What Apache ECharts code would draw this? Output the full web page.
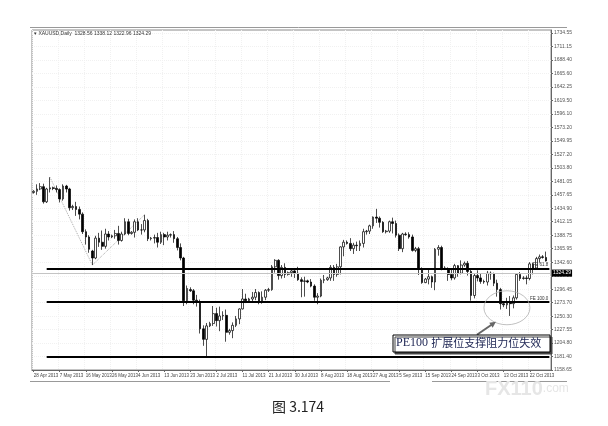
<!DOCTYPE html>
<html>
<head>
<meta charset="utf-8">
<script src="https://cdn.jsdelivr.net/npm/echarts@6/dist/echarts.min.js"></script>
<style>
html, body { margin: 0; padding: 0; background: #fff; }
#main { width: 608px; height: 426px; }
</style>
</head>
<body>
<div id="main"></div>
<script>
// XAUUSD daily, 28 Apr - 28 Oct 2013 (one empty slot at the right edge like MT4)
var dates = [
    '28 Apr 2013', '29 Apr 2013', '30 Apr 2013',
    '1 May 2013', '2 May 2013', '3 May 2013', '5 May 2013', '6 May 2013', '7 May 2013', '8 May 2013', '9 May 2013', '10 May 2013',
    '12 May 2013', '13 May 2013', '14 May 2013', '15 May 2013', '16 May 2013', '17 May 2013', '19 May 2013', '20 May 2013', '21 May 2013',
    '22 May 2013', '23 May 2013', '24 May 2013', '26 May 2013', '27 May 2013', '28 May 2013', '29 May 2013', '30 May 2013', '31 May 2013',
    '2 Jun 2013', '3 Jun 2013', '4 Jun 2013', '5 Jun 2013', '6 Jun 2013', '7 Jun 2013', '9 Jun 2013', '10 Jun 2013', '11 Jun 2013',
    '12 Jun 2013', '13 Jun 2013', '14 Jun 2013', '16 Jun 2013', '17 Jun 2013', '18 Jun 2013', '19 Jun 2013', '20 Jun 2013', '21 Jun 2013',
    '23 Jun 2013', '24 Jun 2013', '25 Jun 2013', '26 Jun 2013', '27 Jun 2013', '28 Jun 2013', '30 Jun 2013',
    '1 Jul 2013', '2 Jul 2013', '3 Jul 2013', '4 Jul 2013', '5 Jul 2013', '7 Jul 2013', '8 Jul 2013', '9 Jul 2013', '10 Jul 2013',
    '11 Jul 2013', '12 Jul 2013', '14 Jul 2013', '15 Jul 2013', '16 Jul 2013', '17 Jul 2013', '18 Jul 2013', '19 Jul 2013', '21 Jul 2013',
    '22 Jul 2013', '23 Jul 2013', '24 Jul 2013', '25 Jul 2013', '26 Jul 2013', '28 Jul 2013', '29 Jul 2013', '30 Jul 2013', '31 Jul 2013',
    '1 Aug 2013', '2 Aug 2013', '4 Aug 2013', '5 Aug 2013', '6 Aug 2013', '7 Aug 2013', '8 Aug 2013', '9 Aug 2013', '11 Aug 2013',
    '12 Aug 2013', '13 Aug 2013', '14 Aug 2013', '15 Aug 2013', '16 Aug 2013', '18 Aug 2013', '19 Aug 2013', '20 Aug 2013', '21 Aug 2013',
    '22 Aug 2013', '23 Aug 2013', '25 Aug 2013', '26 Aug 2013', '27 Aug 2013', '28 Aug 2013', '29 Aug 2013', '30 Aug 2013',
    '1 Sep 2013', '2 Sep 2013', '3 Sep 2013', '4 Sep 2013', '5 Sep 2013', '6 Sep 2013', '8 Sep 2013', '9 Sep 2013', '10 Sep 2013',
    '11 Sep 2013', '12 Sep 2013', '13 Sep 2013', '15 Sep 2013', '16 Sep 2013', '17 Sep 2013', '18 Sep 2013', '19 Sep 2013', '20 Sep 2013',
    '22 Sep 2013', '23 Sep 2013', '24 Sep 2013', '25 Sep 2013', '26 Sep 2013', '27 Sep 2013', '29 Sep 2013', '30 Sep 2013',
    '1 Oct 2013', '2 Oct 2013', '3 Oct 2013', '4 Oct 2013', '6 Oct 2013', '7 Oct 2013', '8 Oct 2013', '9 Oct 2013', '10 Oct 2013',
    '11 Oct 2013', '13 Oct 2013', '14 Oct 2013', '15 Oct 2013', '16 Oct 2013', '17 Oct 2013', '18 Oct 2013', '20 Oct 2013', '21 Oct 2013',
    '22 Oct 2013', '23 Oct 2013', '24 Oct 2013', '25 Oct 2013', '27 Oct 2013', '28 Oct 2013', '29 Oct 2013'
];

var opens = [
    1462, 1464, 1468, 1472, 1446, 1468, 1470, 1469, 1467, 1451,
    1473, 1468, 1436, 1438, 1433, 1425, 1395, 1386, 1362, 1350,
    1384, 1377, 1370, 1391, 1386, 1388, 1392, 1380, 1391, 1412,
    1392, 1394, 1412, 1398, 1398, 1414, 1383, 1384, 1385, 1377,
    1390, 1386, 1389, 1390, 1383, 1368, 1350, 1277, 1296, 1294,
    1278, 1275, 1229, 1211, 1234, 1238, 1255, 1243, 1251, 1252,
    1223, 1226, 1235, 1246, 1263, 1280, 1277, 1280, 1283, 1291,
    1276, 1283, 1295, 1296, 1335, 1346, 1320, 1334, 1322, 1325,
    1328, 1324, 1313, 1310, 1311, 1309, 1302, 1283, 1285, 1312,
    1313, 1316, 1334, 1322, 1335, 1369, 1377, 1375, 1366, 1372,
    1371, 1375, 1395, 1396, 1405, 1420, 1418, 1411, 1395, 1396,
    1412, 1409, 1389, 1366, 1391, 1390, 1386, 1363, 1366, 1332,
    1308, 1314, 1318, 1309, 1365, 1368, 1333, 1331, 1322, 1316,
    1337, 1324, 1338, 1341, 1327, 1286, 1320, 1316, 1310, 1309,
    1324, 1323, 1307, 1296, 1272, 1270, 1273, 1272, 1282, 1322,
    1315, 1316, 1315, 1340, 1333, 1349, 1352, 1351
];
var highs = [
    1466, 1476, 1478, 1477, 1470, 1488, 1472, 1474, 1469, 1476,
    1475, 1470, 1441, 1446, 1438, 1428, 1399, 1389, 1364, 1388,
    1393, 1397, 1400, 1396, 1390, 1398, 1405, 1395, 1418, 1417,
    1396, 1416, 1418, 1408, 1424, 1417, 1386, 1390, 1393, 1395,
    1393, 1395, 1392, 1396, 1386, 1375, 1352, 1303, 1300, 1297,
    1287, 1279, 1235, 1239, 1241, 1268, 1265, 1267, 1259, 1262,
    1229, 1240, 1251, 1264, 1297, 1289, 1282, 1292, 1297, 1293,
    1293, 1297, 1299, 1338, 1348, 1348, 1338, 1341, 1327, 1331,
    1333, 1335, 1317, 1318, 1313, 1314, 1305, 1290, 1315, 1321,
    1318, 1338, 1338, 1340, 1370, 1381, 1380, 1384, 1376, 1378,
    1380, 1400, 1398, 1407, 1421, 1434, 1421, 1413, 1398, 1414,
    1419, 1414, 1392, 1393, 1394, 1394, 1390, 1369, 1369, 1334,
    1316, 1330, 1320, 1367, 1372, 1371, 1336, 1334, 1330, 1340,
    1338, 1346, 1344, 1345, 1330, 1323, 1329, 1323, 1313, 1328,
    1327, 1325, 1313, 1299, 1275, 1282, 1285, 1286, 1324, 1326,
    1319, 1320, 1343, 1342, 1352, 1356, 1355, 1361
];
var lows = [
    1460, 1458, 1466, 1443, 1444, 1462, 1466, 1462, 1445, 1448,
    1462, 1431, 1432, 1422, 1416, 1391, 1373, 1359, 1338, 1348,
    1369, 1364, 1366, 1380, 1384, 1383, 1373, 1378, 1389, 1389,
    1390, 1385, 1396, 1390, 1394, 1379, 1380, 1375, 1368, 1374,
    1372, 1380, 1385, 1376, 1363, 1346, 1268, 1271, 1292, 1271,
    1267, 1221, 1200, 1180, 1232, 1234, 1233, 1225, 1244, 1207,
    1219, 1213, 1232, 1237, 1262, 1273, 1274, 1276, 1278, 1271,
    1272, 1278, 1292, 1294, 1325, 1313, 1315, 1316, 1320, 1318,
    1316, 1311, 1283, 1284, 1307, 1300, 1277, 1271, 1283, 1307,
    1311, 1311, 1311, 1318, 1322, 1353, 1373, 1362, 1357, 1362,
    1362, 1368, 1390, 1391, 1400, 1410, 1402, 1393, 1392, 1393,
    1392, 1385, 1362, 1360, 1388, 1383, 1361, 1360, 1321, 1306,
    1307, 1305, 1299, 1295, 1354, 1329, 1330, 1311, 1312, 1313,
    1318, 1322, 1335, 1320, 1277, 1281, 1310, 1306, 1306, 1303,
    1313, 1302, 1284, 1262, 1266, 1263, 1251, 1264, 1279, 1311,
    1313, 1305, 1312, 1322, 1330, 1342, 1349, 1344
];
var closes = [
    1464, 1468, 1472, 1446, 1468, 1470, 1469, 1467, 1451, 1473,
    1468, 1436, 1438, 1433, 1425, 1395, 1386, 1365, 1350, 1384,
    1377, 1370, 1391, 1386, 1388, 1392, 1380, 1391, 1412, 1392,
    1394, 1412, 1398, 1398, 1414, 1383, 1384, 1385, 1377, 1390,
    1386, 1389, 1390, 1383, 1368, 1350, 1277, 1298, 1294, 1278,
    1275, 1229, 1211, 1234, 1238, 1255, 1243, 1251, 1252, 1223,
    1226, 1235, 1246, 1263, 1280, 1277, 1280, 1283, 1291, 1276,
    1283, 1295, 1296, 1335, 1346, 1320, 1334, 1322, 1325, 1328,
    1324, 1313, 1310, 1311, 1309, 1302, 1283, 1285, 1312, 1313,
    1316, 1334, 1322, 1335, 1369, 1377, 1375, 1366, 1372, 1371,
    1375, 1395, 1396, 1405, 1420, 1418, 1411, 1395, 1396, 1412,
    1409, 1389, 1366, 1391, 1390, 1386, 1363, 1366, 1332, 1308,
    1314, 1318, 1309, 1365, 1368, 1333, 1331, 1322, 1316, 1337,
    1324, 1338, 1341, 1327, 1286, 1320, 1316, 1310, 1309, 1324,
    1323, 1307, 1296, 1272, 1270, 1273, 1272, 1282, 1322, 1315,
    1316, 1315, 1340, 1333, 1349, 1352, 1351, 1345
];

// price scale labels as printed by MT4
var yTicks = [1158.65, 1181.40, 1204.80, 1227.55, 1250.30, 1273.70, 1296.45, 1319.20, 1342.60,
    1365.95, 1388.75, 1412.15, 1434.90, 1457.65, 1481.05, 1503.80, 1527.20, 1549.95, 1573.20,
    1596.10, 1619.50, 1642.25, 1665.60, 1688.40, 1711.15, 1734.55];

// Fibonacci expansion: anchor points A-B-C and the three levels
var feAnchorIdx = [5, 18, 34];
var feAnchorPrice = [1488, 1338, 1424];
var feNames = ['FE 61.8', 'FE 100.0', 'FE 161.8'];
var feLevels = [1332.5, 1274.5, 1182.0];
var feStartIdx = 4;

var bid = 1324.29;
var header = 'XAUUSD,Daily  1328.56 1338.12 1322.96 1324.29';

var candles = opens.map(function (o, i) {
    return [o, closes[i], lows[i], highs[i]];
});
var zigzag = feAnchorIdx.map(function (idx, i) {
    return [dates[idx], feAnchorPrice[i]];
});

var feLines = feLevels.map(function (lv, i) {
    return [{
        coord: [dates[feStartIdx], lv],
        label: {
            show: true, position: 'insideEndTop', formatter: feNames[i],
            fontSize: 4.5, color: '#333', distance: 1, fontFamily: 'Liberation Sans'
        },
        lineStyle: { color: '#000', width: 2, type: 'solid' }
    }, {
        coord: [dates[dates.length - 1], lv]
    }];
});
feLines.push({
    yAxis: bid,
    lineStyle: { color: '#c4c4c4', width: 1, type: 'solid' },
    label: {
        show: true, position: 'end', formatter: bid.toFixed(2), distance: 1,
        backgroundColor: '#000', color: '#fff', fontSize: 5, padding: [1, 1],
        fontFamily: 'Liberation Sans'
    }
});

var myChart = echarts.init(document.getElementById('main'), null, { renderer: 'canvas' });

var option = {
    backgroundColor: '#fff',
    animation: false,
    grid: {
        left: 32, right: 57, top: 30, bottom: 56,
        show: true, borderColor: '#8a8a8a', borderWidth: 1
    },
    xAxis: {
        type: 'category',
        data: dates,
        boundaryGap: true,
        axisLine: { show: true, lineStyle: { color: '#666' } },
        axisTick: { show: true, interval: 7, alignWithLabel: true, length: 2, lineStyle: { color: '#666' } },
        axisLabel: {
            interval: 7, showMinLabel: true, hideOverlap: false,
            fontSize: 4.5, color: '#444', align: 'left', margin: 3,
            fontFamily: 'Liberation Sans'
        },
        splitLine: { show: true, interval: 7, lineStyle: { color: '#f1f1f1', type: 'dotted' } }
    },
    yAxis: {
        type: 'value',
        position: 'right',
        min: 1158.65,
        max: 1739.65,
        axisLine: { show: true, lineStyle: { color: '#666' } },
        axisTick: { show: true, length: 2, customValues: yTicks, lineStyle: { color: '#666' } },
        axisLabel: {
            customValues: yTicks, fontSize: 5, color: '#555', margin: 3,
            fontFamily: 'Liberation Sans',
            formatter: function (v) { return v.toFixed(2); }
        },
        splitLine: { show: true, lineStyle: { color: '#f1f1f1', type: 'dotted' } }
    },
    series: [{
        name: 'zigzag',
        type: 'line',
        data: zigzag,
        symbol: 'none',
        silent: true,
        z: 1,
        lineStyle: { color: '#aaa', width: 1, type: 'dotted' }
    }, {
        name: 'XAUUSD',
        type: 'candlestick',
        data: candles,
        barWidth: 2.2,
        z: 3,
        itemStyle: {
            color: '#fff',
            color0: '#000',
            borderColor: '#000',
            borderColor0: '#000',
            borderWidth: 0.7
        },
        markLine: {
            silent: true,
            symbol: ['none', 'none'],
            animation: false,
            data: feLines
        }
    }]
};
myChart.setOption(option);

// annotation: circle round the failed FE 100 support, arrow and text box
var c = myChart.convertToPixel({ seriesIndex: 1 }, [dates[145], 1265]);
var tip = [c[0] - 11, c[1] + 14];
var tail = [c[0] - 30, c[1] + 27];
var dx = tip[0] - tail[0], dy = tip[1] - tail[1];
var len = Math.sqrt(dx * dx + dy * dy);
var ux = dx / len, uy = dy / len;
var head = [
    [tip[0], tip[1]],
    [tip[0] - ux * 6 - uy * 3, tip[1] - uy * 6 + ux * 3],
    [tip[0] - ux * 6 + uy * 3, tip[1] - uy * 6 - ux * 3]
];

myChart.setOption({
    graphic: [
        // header text of the MT4 window
        { type: 'text', left: 34, top: 31, silent: true,
          style: { text: '\u25BE ' + header, fontSize: 5, fill: '#333', fontFamily: 'Liberation Sans' } },
        // outer window frame
        { type: 'line', silent: true, shape: { x1: 30, y1: 27.5, x2: 567, y2: 27.5 }, style: { stroke: '#999', lineWidth: 1 } },
        { type: 'line', silent: true, shape: { x1: 30, y1: 381.5, x2: 390, y2: 381.5 }, style: { stroke: '#999', lineWidth: 1 } },
        { type: 'line', silent: true, shape: { x1: 432, y1: 381.5, x2: 567, y2: 381.5 }, style: { stroke: '#999', lineWidth: 1 } },
        // ellipse
        { type: 'ellipse', silent: true, z: 10,
          shape: { cx: c[0], cy: c[1], rx: 23, ry: 17 },
          style: { fill: 'none', stroke: '#b0b0b0', lineWidth: 0.8 } },
        // arrow
        { type: 'line', silent: true, z: 10,
          shape: { x1: tail[0], y1: tail[1], x2: tip[0] - ux * 4, y2: tip[1] - uy * 4 },
          style: { stroke: '#666', lineWidth: 2 } },
        { type: 'polygon', silent: true, z: 10, shape: { points: head }, style: { fill: '#666' } },
        // text box
        { type: 'rect', silent: true, z: 10,
          shape: { x: 393, y: 335, width: 157, height: 17 },
          style: { fill: '#fff', stroke: '#000', lineWidth: 1,
                   shadowColor: '#444', shadowOffsetX: 2, shadowOffsetY: 2, shadowBlur: 0 } },
        { type: 'text', silent: true, z: 11, left: 396, top: 336.5,
          style: {
              text: '{a|PE100} {b|扩展位支撑阻力位失效}',
              rich: {
                  a: { fontSize: 12, fill: '#1c2452', fontFamily: 'Liberation Serif' },
                  b: { fontSize: 11, fill: '#1c2452', fontFamily: 'Noto Sans CJK SC' }
              }
          } },
        // watermark
        { type: 'text', silent: true, left: 485, top: 379,
          style: {
              text: '{a|FX110}{b|.com}',
              rich: {
                  a: { fontSize: 20, fontWeight: 'bold', fill: '#e6e6e6', fontFamily: 'Liberation Sans' },
                  b: { fontSize: 12, fill: '#e6e6e6', fontFamily: 'Liberation Sans' }
              }
          } },
        // caption
        { type: 'text', silent: true, left: 272, top: 400,
          style: { text: '图 3.174', fontSize: 14, fill: '#222', fontFamily: 'Noto Sans CJK SC' } }
    ]
});
</script>
</body>
</html>
